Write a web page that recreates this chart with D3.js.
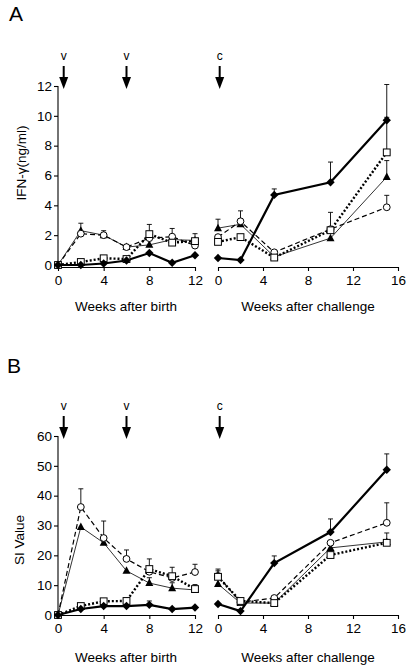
<!DOCTYPE html>
<html><head><meta charset="utf-8">
<script src="https://cdn.jsdelivr.net/npm/d3@7"></script>
<style>body{margin:0;background:#fff}svg{display:block}text{font-family:"Liberation Sans",Arial,sans-serif;fill:#000}</style>
</head><body><svg id="c" width="411" height="671"></svg>
<script>
// ---- data ----
const birthWeeks = [0, 2, 4, 6, 8, 10, 12];
const challengeWeeks = [0, 2, 5, 10, 15];
const birthTicks = [0, 4, 8, 12];
const challengeTicks = [0, 4, 8, 12, 16];
const ifnTicks = [0, 2, 4, 6, 8, 10, 12];
const siTicks = [0, 10, 20, 30, 40, 50, 60];
const seriesNames = ["diamond", "square", "circle", "triangle"];

// Panel A: IFN-gamma (ng/ml)
const ifnBirthDiamond = [0, 0, 0.1, 0.3, 0.8, 0.15, 0.65];
const ifnBirthSquare = [0, 0.2, 0.45, 0.4, 2.07, 1.5, 1.6];
const ifnBirthCircle = [0, 2.1, 2.0, 1.2, 1.8, 1.9, 1.3];
const ifnBirthTriangle = [0, 2.3, 2.0, 1.2, 1.35, 1.7, 1.65];
const ifnBirthDiamondErr = [0, 0, 0, 0, 0, 0, 0];
const ifnBirthSquareErr = [0, 0, 0, 0, 0.65, 0, 0];
const ifnBirthCircleErr = [0, 0, 0.3, 0, 0, 0.55, 0];
const ifnBirthTriangleErr = [0, 0.5, 0, 0, 0, 0, 0.45];

const ifnChalDiamond = [0.47, 0.33, 4.7, 5.55, 9.7];
const ifnChalSquare = [1.55, 1.87, 0.5, 2.33, 7.55];
const ifnChalCircle = [1.87, 2.93, 0.85, 2.4, 3.87];
const ifnChalTriangle = [2.47, 2.73, 0.55, 1.8, 5.9];
const ifnChalDiamondErr = [0, 0, 0.4, 1.35, 2.4];
const ifnChalSquareErr = [0, 0, 0, 1.2, 2.35];
const ifnChalCircleErr = [0, 0.7, 0, 0, 0.8];
const ifnChalTriangleErr = [0.6, 0, 0, 0, 1.1];

// Panel B: SI value
const siBirthDiamond = [0, 2.0, 3.0, 3.0, 3.4, 2.0, 2.5];
const siBirthSquare = [0, 3.0, 4.6, 4.7, 15.4, 13.0, 8.7];
const siBirthCircle = [0, 36.2, 25.8, 18.8, 14.5, 12.4, 14.4];
const siBirthTriangle = [0, 29.5, 24.2, 14.8, 10.7, 9.0, 8.4];
const siBirthDiamondErr = [0, 0, 0, 0, 1.3, 0, 0];
const siBirthSquareErr = [0, 0, 0, 0, 3.4, 0, 0];
const siBirthCircleErr = [0, 6.1, 5.7, 3.0, 0, 3.6, 2.6];
const siBirthTriangleErr = [0, 0, 0, 0, 1.8, 1.8, 1.8];

const siChalDiamond = [3.7, 1.3, 17.4, 27.8, 48.7];
const siChalSquare = [12.8, 4.7, 4.0, 20.1, 24.2];
const siChalCircle = [13.1, 4.3, 5.7, 24.2, 30.9];
const siChalTriangle = [10.4, 4.0, 4.0, 22.5, 24.5];
const siChalDiamondErr = [0, 0, 2.4, 4.4, 5.3];
const siChalSquareErr = [2.0, 0, 0, 0, 3.3];
const siChalCircleErr = [2.3, 0, 0, 0, 6.7];
const siChalTriangleErr = [0, 0, 0, 0, 0];

// arrows: label, phase, week
const arrowLabels = ["v", "v", "c"];
const arrowPhases = ["birth", "birth", "challenge"];
const arrowWeeks = [0.5, 6, 0.15];

// ---- drawing ----
const svg = d3.select("#c");
const styles = {
  diamond: {width: 2.2, dash: null},
  square: {width: 2.4, dash: "2,2"},
  circle: {width: 1.2, dash: "5,3"},
  triangle: {width: 0.8, dash: null}
};

function drawPanel(cfg) {
  const xb = d3.scaleLinear().domain([0, 12]).range([58, 195]);
  const xc = d3.scaleLinear().domain([0, 16]).range([218, 398]);
  const y = d3.scaleLinear().domain([0, cfg.ymax]).range([cfg.y0, cfg.ytop]);
  const g = svg.append("g");
  const axisY = cfg.y0 + cfg.axisOff;

  // y axis
  const ya = g.append("g").attr("transform", "translate(58,0)")
    .call(d3.axisLeft(y).tickValues(cfg.yTicks).tickSize(4).tickSizeOuter(0).tickPadding(2));
  ya.select(".domain").attr("d", `M0,${cfg.ytop}V${axisY}`);
  // x axes
  const xa1 = g.append("g").attr("transform", `translate(0,${axisY})`)
    .call(d3.axisBottom(xb).tickValues(birthTicks).tickSize(4).tickSizeOuter(0).tickPadding(4));
  const xa2 = g.append("g").attr("transform", `translate(0,${axisY})`)
    .call(d3.axisBottom(xc).tickValues(challengeTicks).tickSize(4).tickSizeOuter(0).tickPadding(4));
  g.selectAll(".tick text").style("font-size", "13.5px").style("font-family", "Liberation Sans, Arial");
  g.selectAll(".domain, .tick line").attr("stroke", "#000").attr("stroke-width", 1.1);

  // axis titles
  g.append("text").attr("x", 126).attr("y", cfg.titleY).attr("text-anchor", "middle")
    .style("font-size", "13.5px").text("Weeks after birth");
  g.append("text").attr("x", 308).attr("y", cfg.titleY).attr("text-anchor", "middle")
    .style("font-size", "13.5px").text("Weeks after challenge");
  g.append("text").attr("transform", `translate(${cfg.ylabX},${cfg.ylabY}) rotate(-90)`)
    .attr("text-anchor", "middle").style("font-size", "13.5px").text(cfg.ylabel);
  g.append("text").attr("x", cfg.letterX).attr("y", cfg.letterY)
    .style("font-size", "21px").text(cfg.letter);

  // arrows
  arrowLabels.forEach((lab, i) => {
    const ax = (arrowPhases[i] === "birth" ? xb : xc)(arrowWeeks[i]);
    const top = cfg.arrowTop;
    g.append("text").attr("x", ax).attr("y", top - 6).attr("text-anchor", "middle")
      .style("font-size", "12px").text(lab);
    g.append("line").attr("x1", ax).attr("x2", ax).attr("y1", top).attr("y2", top + 13)
      .attr("stroke", "#000").attr("stroke-width", 2);
    g.append("path").attr("d", `M${ax - 4.5},${top + 11}L${ax + 4.5},${top + 11}L${ax},${top + 23}Z`)
      .attr("fill", "#000");
  });

  // series
  const phases = [
    {x: xb, weeks: birthWeeks, vals: cfg.birth, errs: cfg.birthErr},
    {x: xc, weeks: challengeWeeks, vals: cfg.chal, errs: cfg.chalErr}
  ];
  const order = ["triangle", "circle", "square", "diamond"];
  phases.forEach(ph => {
    // error bars
    order.forEach(s => {
      const vals = ph.vals[s], errs = ph.errs[s];
      vals.forEach((v, i) => {
        if (!errs[i]) return;
        const px = ph.x(ph.weeks[i]);
        g.append("line").attr("x1", px).attr("x2", px).attr("y1", y(v)).attr("y2", y(v + errs[i]))
          .attr("stroke", "#000").attr("stroke-width", 0.9);
        g.append("line").attr("x1", px - 2.5).attr("x2", px + 2.5).attr("y1", y(v + errs[i])).attr("y2", y(v + errs[i]))
          .attr("stroke", "#000").attr("stroke-width", 0.9);
      });
    });
    // lines
    order.forEach(s => {
      const line = d3.line().x((d, i) => ph.x(ph.weeks[i])).y(d => y(d));
      g.append("path").attr("d", line(ph.vals[s])).attr("fill", "none").attr("stroke", "#000")
        .attr("stroke-width", styles[s].width).attr("stroke-dasharray", styles[s].dash);
    });
    // markers
    order.forEach(s => {
      ph.vals[s].forEach((v, i) => {
        const px = ph.x(ph.weeks[i]), py = y(v);
        if (s === "diamond") {
          g.append("path").attr("d", `M${px},${py - 4.2}L${px + 4.2},${py}L${px},${py + 4.2}L${px - 4.2},${py}Z`).attr("fill", "#000");
        } else if (s === "square") {
          g.append("rect").attr("x", px - 3.4).attr("y", py - 3.4).attr("width", 6.8).attr("height", 6.8)
            .attr("fill", "#fff").attr("stroke", "#000").attr("stroke-width", 1);
        } else if (s === "circle") {
          g.append("circle").attr("cx", px).attr("cy", py).attr("r", 3.4)
            .attr("fill", "#fff").attr("stroke", "#000").attr("stroke-width", 1);
        } else {
          g.append("path").attr("d", `M${px},${py - 4.5}L${px + 4},${py + 3}L${px - 4},${py + 3}Z`).attr("fill", "#000");
        }
      });
    });
  });
}

drawPanel({
  ymax: 12, y0: 265, ytop: 86, axisOff: 2, yTicks: ifnTicks,
  titleY: 311, ylabel: "IFN-\u03b3(ng/ml)", ylabX: 26, ylabY: 163,
  letter: "A", letterX: 9, letterY: 21, arrowTop: 66,
  birth: {diamond: ifnBirthDiamond, square: ifnBirthSquare, circle: ifnBirthCircle, triangle: ifnBirthTriangle},
  birthErr: {diamond: ifnBirthDiamondErr, square: ifnBirthSquareErr, circle: ifnBirthCircleErr, triangle: ifnBirthTriangleErr},
  chal: {diamond: ifnChalDiamond, square: ifnChalSquare, circle: ifnChalCircle, triangle: ifnChalTriangle},
  chalErr: {diamond: ifnChalDiamondErr, square: ifnChalSquareErr, circle: ifnChalCircleErr, triangle: ifnChalTriangleErr}
});
drawPanel({
  ymax: 60, y0: 615, ytop: 436, axisOff: 0, yTicks: siTicks,
  titleY: 662, ylabel: "SI Value", ylabX: 24, ylabY: 540,
  letter: "B", letterX: 7, letterY: 373, arrowTop: 416,
  birth: {diamond: siBirthDiamond, square: siBirthSquare, circle: siBirthCircle, triangle: siBirthTriangle},
  birthErr: {diamond: siBirthDiamondErr, square: siBirthSquareErr, circle: siBirthCircleErr, triangle: siBirthTriangleErr},
  chal: {diamond: siChalDiamond, square: siChalSquare, circle: siChalCircle, triangle: siChalTriangle},
  chalErr: {diamond: siChalDiamondErr, square: siChalSquareErr, circle: siChalCircleErr, triangle: siChalTriangleErr}
});
</script></body></html>
